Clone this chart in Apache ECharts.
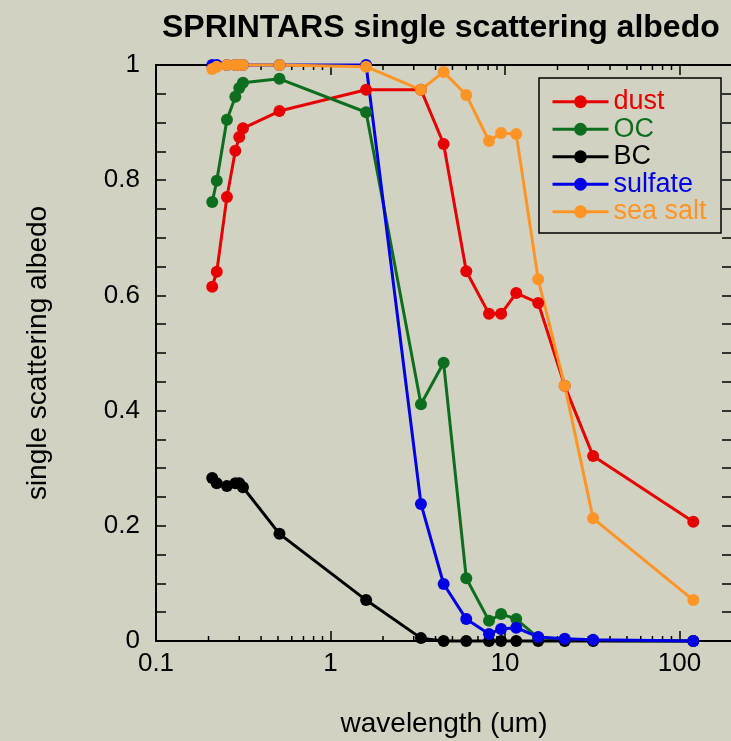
<!DOCTYPE html>
<html>
<head>
<meta charset="utf-8">
<script src="https://cdn.jsdelivr.net/npm/echarts@6/dist/echarts.min.js"></script>
<style>
  html, body { margin: 0; padding: 0; background: #d2d2c2; }
  #chart { width: 731px; height: 741px; }
</style>
</head>
<body>
<div id="chart"></div>
<script>
// wavelength (um) of each band
const wavelengths = [0.21, 0.223, 0.255, 0.285, 0.3, 0.315, 0.51, 1.6, 3.3, 4.45, 6, 8.1, 9.5, 11.6, 15.5, 22, 32, 120];

// single scattering albedo per aerosol type
const dust = [0.615, 0.641, 0.771, 0.851, 0.875, 0.890, 0.920, 0.957, 0.957, 0.863, 0.642, 0.568, 0.568, 0.604, 0.587, 0.443, 0.321, 0.207];
const oc = [0.762, 0.799, 0.905, 0.945, 0.960, 0.969, 0.976, 0.918, 0.411, 0.483, 0.109, 0.035, 0.047, 0.038, 0.006, 0.003, 0.001, 0.0];
const bc = [0.283, 0.274, 0.269, 0.274, 0.274, 0.267, 0.186, 0.071, 0.005, 0.0, 0.0, 0.0, 0.0, 0.0, 0.0, 0.0, 0.0, 0.0];
const sulfate = [1.0, 1.0, 1.0, 1.0, 1.0, 1.0, 1.0, 1.0, 0.238, 0.099, 0.038, 0.012, 0.021, 0.023, 0.007, 0.004, 0.002, 0.0];
const seaSalt = [0.993, 0.997, 1.0, 1.0, 1.0, 1.0, 1.0, 0.997, 0.957, 0.988, 0.948, 0.868, 0.882, 0.880, 0.628, 0.443, 0.213, 0.071];

// minor ticks of the log axis
const minorTickValues = [0.2, 0.3, 0.4, 0.5, 0.6, 0.7, 0.8, 0.9, 2, 3, 4, 5, 6, 7, 8, 9, 20, 30, 40, 50, 60, 70, 80, 90, 200];
const yLabelValues = [0, 0.2, 0.4, 0.6, 0.8, 1];

const seriesList = [
  { name: "dust", color: "#e60000", data: dust },
  { name: "OC", color: "#0c6e1e", data: oc },
  { name: "BC", color: "#000000", data: bc },
  { name: "sulfate", color: "#0000e6", data: sulfate },
  { name: "sea salt", color: "#ff9426", data: seaSalt }
];

const font = "Liberation Sans, Arial, Helvetica, sans-serif";

function pairs(values) {
  return wavelengths.map((w, i) => [w, values[i]]);
}

function logAxis(pos) {
  return {
    type: "log",
    logBase: 10,
    min: 0.1,
    max: 200,
    position: pos,
    axisLine: { onZero: false, lineStyle: { color: "#000", width: 2 } },
    axisTick: { inside: true, length: 10, lineStyle: { color: "#000", width: 1.5 } },
    splitLine: { show: false },
    axisLabel: {
      show: pos === "bottom",
      margin: 10,
      fontSize: 26,
      fontFamily: font,
      color: "#000",
      formatter: function (v) {
        const l = Math.log10(v);
        return Math.abs(l - Math.round(l)) < 1e-6 ? String(v) : "";
      }
    }
  };
}

function valueAxis(pos) {
  return {
    type: "value",
    min: 0,
    max: 1,
    interval: 0.05,
    position: pos,
    axisLine: { show: true, onZero: false, lineStyle: { color: "#000", width: 2 } },
    axisTick: { show: true, inside: true, length: 10, lineStyle: { color: "#000", width: 1.5 } },
    splitLine: { show: false },
    axisLabel: {
      show: pos === "left",
      margin: 16,
      fontSize: 26,
      fontFamily: font,
      color: "#000",
      formatter: function (v) {
        return yLabelValues.some(t => Math.abs(t - v) < 1e-6) ? String(+v.toFixed(1)) : "";
      }
    }
  };
}

const xBottom = logAxis("bottom");
xBottom.name = "wavelength (um)";
xBottom.nameLocation = "middle";
xBottom.nameGap = 69;
xBottom.nameTextStyle = { fontSize: 28, fontFamily: font, color: "#000" };

const yLeft = valueAxis("left");
yLeft.name = "single scattering albedo";
yLeft.nameLocation = "middle";
yLeft.nameGap = 104;
yLeft.nameTextStyle = { fontSize: 28, fontFamily: font, color: "#000" };

const series = seriesList.map(s => ({
  type: "line",
  name: s.name,
  data: pairs(s.data),
  symbol: "circle",
  symbolSize: 12,
  clip: false,
  color: s.color,
  lineStyle: { width: 3, color: s.color },
  itemStyle: { color: s.color }
}));

// minor log ticks on bottom and top, placed through the x scale
series.push({
  type: "custom",
  silent: true,
  z: 1,
  data: minorTickValues.map(v => [v, 0]),
  renderItem: function (params, api) {
    const b = api.coord([api.value(0), 0]);
    const t = api.coord([api.value(0), 1]);
    const st = { stroke: "#000", lineWidth: 1.5 };
    return {
      type: "group",
      children: [
        { type: "line", shape: { x1: b[0], y1: b[1], x2: b[0], y2: b[1] - 5 }, style: st },
        { type: "line", shape: { x1: t[0], y1: t[1], x2: t[0], y2: t[1] + 5 }, style: st }
      ]
    };
  }
});

const option = {
  backgroundColor: "#d2d2c2",
  animation: false,
  textStyle: { fontFamily: font },
  title: {
    text: "SPRINTARS single scattering albedo",
    left: 157,
    top: 7,
    textStyle: { fontSize: 32, fontWeight: "bold", color: "#000", fontFamily: font }
  },
  grid: { left: 156, top: 65, width: 576, height: 576, outerBoundsMode: "none" },
  legend: {
    orient: "vertical",
    left: 551,
    top: 88,
    itemWidth: 56,
    itemHeight: 16,
    itemGap: 0,
    padding: 0,
    lineStyle: { width: 3 },
    textStyle: { fontSize: 27, lineHeight: 27.5, fontFamily: font },
    data: seriesList.map(s => ({ name: s.name, textStyle: { color: s.color } }))
  },
  graphic: [
    {
      type: "rect",
      shape: { x: 539, y: 78, width: 182, height: 155 },
      style: { fill: "transparent", stroke: "#000", lineWidth: 1.5 },
      z: 100
    }
  ],
  xAxis: [xBottom, logAxis("top")],
  yAxis: [yLeft, valueAxis("right")],
  series: series
};

const chart = echarts.init(document.getElementById("chart"));
chart.setOption(option);
</script>
</body>
</html>
